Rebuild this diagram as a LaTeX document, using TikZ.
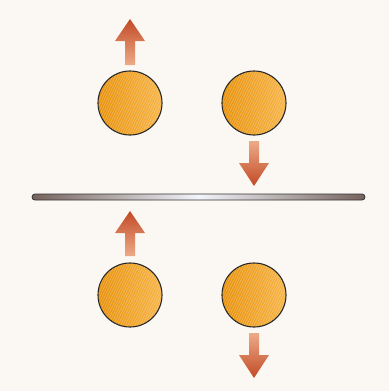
\documentclass[tikz,border=0pt]{standalone}
\usetikzlibrary{patterns.meta}
\definecolor{bg}{HTML}{FBF8F3}
\definecolor{arrdark}{HTML}{C24A26}
\definecolor{arrlight}{HTML}{EDAA88}
\definecolor{balldark}{HTML}{E8920C}
\definecolor{balllight}{HTML}{F7B548}
\definecolor{barend}{HTML}{75625C}
\definecolor{barmid}{HTML}{F2F5FB}
\tikzset{
  ball/.style={circle, minimum size=64pt, inner sep=0pt, draw=black!85, line width=1.1pt,
    left color=balldark, right color=balllight},
  hatch/.style={pattern={Lines[angle=65,distance=2.2pt,line width=0.5pt]}, pattern color=white!85!balllight, opacity=0.35},
  arrowup/.style={top color=arrdark, bottom color=arrlight},
  arrowdown/.style={top color=arrlight, bottom color=arrdark},
  wall/.style={rounded corners=3pt, draw=black!80, line width=0.8pt, left color=barend, right color=barend, middle color=barmid}
}
% #1 x, #2 tail y, #3 tip y, #4 head base y, #5 style
\newcommand\MyArr[5]{%
  \shade[#5] (#1-5,#2) -- (#1-5,#4) -- (#1-15,#4) -- (#1,#3) -- (#1+15,#4) -- (#1+5,#4) -- (#1+5,#2) -- cycle;}
\begin{document}
\begin{tikzpicture}[x=1pt,y=-1pt]
\fill[bg] (0,0) rectangle (389,391);
\useasboundingbox (0,0) rectangle (389,391);
% balls
\node[ball] (tl) at (130,103) {};
\node[ball] (tr) at (254,103) {};
\node[ball] (bl) at (130,295) {};
\node[ball] (br) at (254,295) {};
\foreach \n in {tl,tr,bl,br}{\fill[hatch] (\n.center) circle (31.5pt);}
% wall
\shade[wall] (32,194) rectangle (365,200);
\coordinate (wallc) at (198,197);
% arrows
\MyArr{130}{65}{19}{41}{arrowup}
\MyArr{254}{141}{186}{163}{arrowdown}
\MyArr{130}{256}{211}{233}{arrowup}
\MyArr{254}{333}{378}{355}{arrowdown}
\end{tikzpicture}
\end{document}
